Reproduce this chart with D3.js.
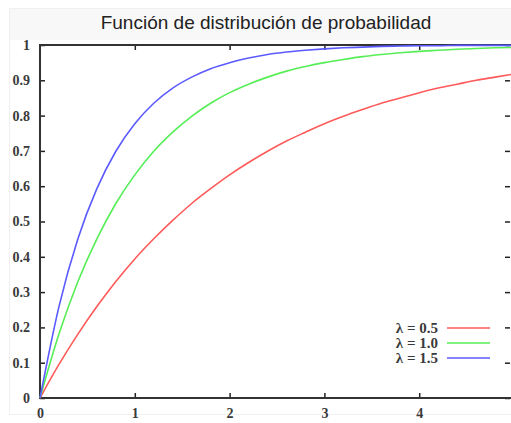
<!DOCTYPE html>
<html>
<head>
<meta charset="utf-8">
<script src="https://cdn.jsdelivr.net/npm/d3@7"></script>
<style>
  body { margin: 0; background: #fff; }
  svg { display: block; }
</style>
</head>
<body>
<div id="chart-area"></div>
<script>
// values
let xs = [0, 0.2, 0.4, 0.6, 0.8, 1.0, 1.2, 1.4, 1.6, 1.8, 2.0, 2.2, 2.4, 2.6, 2.8,
          3.0, 3.2, 3.4, 3.6, 3.8, 4.0, 4.2, 4.4, 4.6, 4.8, 5.0];
let lam05 = [0, 0.095, 0.181, 0.259, 0.330, 0.394, 0.451, 0.503, 0.551, 0.593, 0.632,
             0.667, 0.699, 0.728, 0.753, 0.777, 0.798, 0.817, 0.835, 0.850, 0.865,
             0.878, 0.889, 0.900, 0.909, 0.918];
let lam10 = [0, 0.181, 0.330, 0.451, 0.551, 0.632, 0.699, 0.753, 0.798, 0.835, 0.865,
             0.889, 0.909, 0.926, 0.939, 0.950, 0.959, 0.967, 0.973, 0.978, 0.982,
             0.985, 0.988, 0.990, 0.992, 0.993];
let lam15 = [0, 0.259, 0.451, 0.593, 0.699, 0.777, 0.835, 0.878, 0.909, 0.933, 0.950,
             0.963, 0.973, 0.980, 0.985, 0.989, 0.992, 0.994, 0.996, 0.997, 0.998,
             0.998, 0.999, 0.999, 0.999, 0.999];
let seriesNames = ["λ = 0.5", "λ = 1.0", "λ = 1.5"];
let seriesColors = ["#ff5a5a", "#55ee55", "#5a5aff"];
let xTicks = [0, 1, 2, 3, 4];
let yTicks = [0, 0.1, 0.2, 0.3, 0.4, 0.5, 0.6, 0.7, 0.8, 0.9, 1];
let title = "Función de distribución de probabilidad";

let W = 511, H = 423;
let plot = { lft: 40, rht: 514, top: 45, bot: 398 };

let svg = d3.select("#chart-area")
  .append("svg")
    .attr("width", W)
    .attr("height", H);

// faint panel and title band
svg.append("rect")
  .attr("x", 9.5).attr("y", 8.5)
  .attr("width", W).attr("height", 406)
  .attr("fill", "#fff")
  .attr("stroke", "#f0f0f0");
svg.append("rect")
  .attr("x", 10).attr("y", 9)
  .attr("width", W).attr("height", 31)
  .attr("fill", "#f8f8f8");

svg.append("text")
  .attr("x", 266)
  .attr("y", 29)
  .attr("text-anchor", "middle")
  .attr("font-family", "Liberation Sans, Arial, sans-serif")
  .attr("font-size", "19px")
  .attr("fill", "#222")
  .text(title);

let x = d3.scaleLinear().domain([0, 5]).range([plot.lft, plot.rht]);
let y = d3.scaleLinear().domain([0, 1]).range([plot.bot, plot.top]);

let labelFont = "Liberation Serif, Times New Roman, serif";

// axes with inward ticks
let xAxisCall = d3.axisBottom(x).tickValues(xTicks).tickSize(-5).tickPadding(10).tickFormat(d3.format("d"));
let gx = svg.append("g")
  .attr("class", "x-axis")
  .attr("transform", `translate(0, ${plot.bot})`)
  .call(xAxisCall);

let yAxisCall = d3.axisLeft(y).tickValues(yTicks).tickSize(-5).tickPadding(10)
  .tickFormat((d) => d === 0 ? "0" : d === 1 ? "1" : d3.format(".1f")(d));
let gy = svg.append("g")
  .attr("class", "y-axis")
  .attr("transform", `translate(${plot.lft}, 0)`)
  .call(yAxisCall);

// mirrored ticks top and right
let gt = svg.append("g")
  .attr("transform", `translate(0, ${plot.top})`)
  .call(d3.axisTop(x).tickValues(xTicks.slice(1)).tickSize(-5).tickFormat(""));
let gr = svg.append("g")
  .attr("transform", `translate(${plot.rht - 4}, 0)`)
  .call(d3.axisRight(y).tickValues(yTicks).tickSize(-5).tickFormat(""));

[gx, gy, gt, gr].forEach((g) => {
  g.select(".domain").remove();
  g.selectAll(".tick line").attr("stroke", "#222").attr("stroke-width", 1.5);
  g.selectAll("text")
    .attr("font-family", labelFont)
    .attr("font-size", "14px")
    .attr("font-weight", "bold")
    .attr("fill", "#3a3a3a");
});

// frame
svg.append("rect")
  .attr("x", plot.lft).attr("y", plot.top)
  .attr("width", plot.rht - plot.lft).attr("height", plot.bot - plot.top)
  .attr("fill", "none")
  .attr("stroke", "#333")
  .attr("stroke-width", 2);

// curves
let line = d3.line()
  .x((d) => x(d[0]))
  .y((d) => y(d[1]))
  .curve(d3.curveMonotoneX);

[lam05, lam10, lam15].forEach((vals, i) => {
  svg.append("path")
    .datum(xs.map((v, j) => [v, vals[j]]))
    .attr("fill", "none")
    .attr("stroke", seriesColors[i])
    .attr("stroke-width", 1.6)
    .attr("d", line);
});

// legend
let legend = svg.append("g");
seriesNames.forEach((name, i) => {
  let ly = 328 + i * 15;
  legend.append("text")
    .attr("x", 438)
    .attr("y", ly + 5)
    .attr("text-anchor", "end")
    .attr("font-family", labelFont)
    .attr("font-size", "15px")
    .attr("font-weight", "bold")
    .attr("fill", "#3a3a3a")
    .text(name);
  legend.append("line")
    .attr("x1", 447).attr("x2", 490)
    .attr("y1", ly).attr("y2", ly)
    .attr("stroke", seriesColors[i])
    .attr("stroke-width", 1.6);
});
</script>
</body>
</html>
